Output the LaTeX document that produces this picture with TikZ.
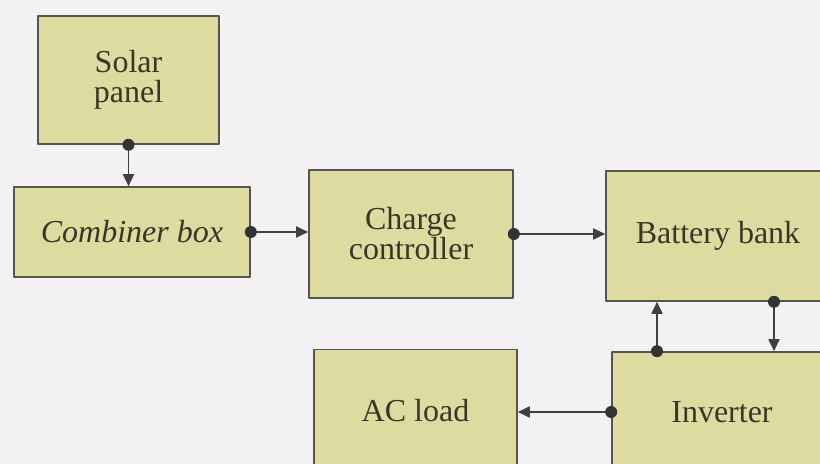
\documentclass[tikz,border=0pt]{standalone}
\usepackage{fontspec}
\setmainfont{Liberation Serif}
\usetikzlibrary{arrows.meta}
\definecolor{boxfill}{RGB}{222,219,160}
\definecolor{boxline}{RGB}{85,85,80}
\definecolor{boxtext}{RGB}{55,55,40}
\definecolor{pagebg}{RGB}{243,241,243}

\begin{document}
\begin{tikzpicture}[x=0.5pt,y=-0.5pt,line cap=round,line join=round,
  block/.style={draw=boxline,line width=0.8pt,fill=boxfill,text=boxtext,
    font=\fontsize{16}{15}\selectfont,align=center,inner sep=0pt},
  link/.style={draw=black!75,line width=0.9pt,-{Triangle[length=6pt,width=5.5pt]}},
  dot/.style={circle,fill=black!80,inner sep=0pt,minimum size=6pt}]
\fill[pagebg] (0,0) rectangle (820,464);
\useasboundingbox (0,0) rectangle (820,464);
\clip (0,0) rectangle (820,464);
% blocks
\node[block,minimum width=90.5pt,minimum height=64pt] (solar) at (128.5,80) {Solar\\panel};
\node[block,minimum width=118pt,minimum height=45pt,font=\fontsize{16}{15}\selectfont\itshape] (comb) at (132,232) {Combiner box};
\node[block,minimum width=102pt,minimum height=64pt] (charge) at (411,234) {Charge\\controller};
\node[block,minimum width=112pt,minimum height=65pt] (bat) at (718,236) {Battery bank};
\node[block,minimum width=101.5pt,minimum height=61pt] (load) at (415.5,410.5) {AC load};
\node[block,minimum width=110pt,minimum height=60pt] (inv) at (722,412) {Inverter};
% links
\coordinate (upx) at (657,0);
\coordinate (dnx) at (774,0);
\draw[link] (solar.south) node[dot]{} -- (solar.south |- comb.north);
\draw[link] (comb.east) node[dot]{} -- (comb.east -| charge.west);
\draw[link] (charge.east) node[dot]{} -- (charge.east -| bat.west);
\draw[link] (inv.north -| upx) node[dot]{} -- (bat.south -| upx);
\draw[link] (bat.south -| dnx) node[dot]{} -- (inv.north -| dnx);
\draw[link] (inv.west) node[dot]{} -- (inv.west -| load.east);
\end{tikzpicture}
\end{document}
